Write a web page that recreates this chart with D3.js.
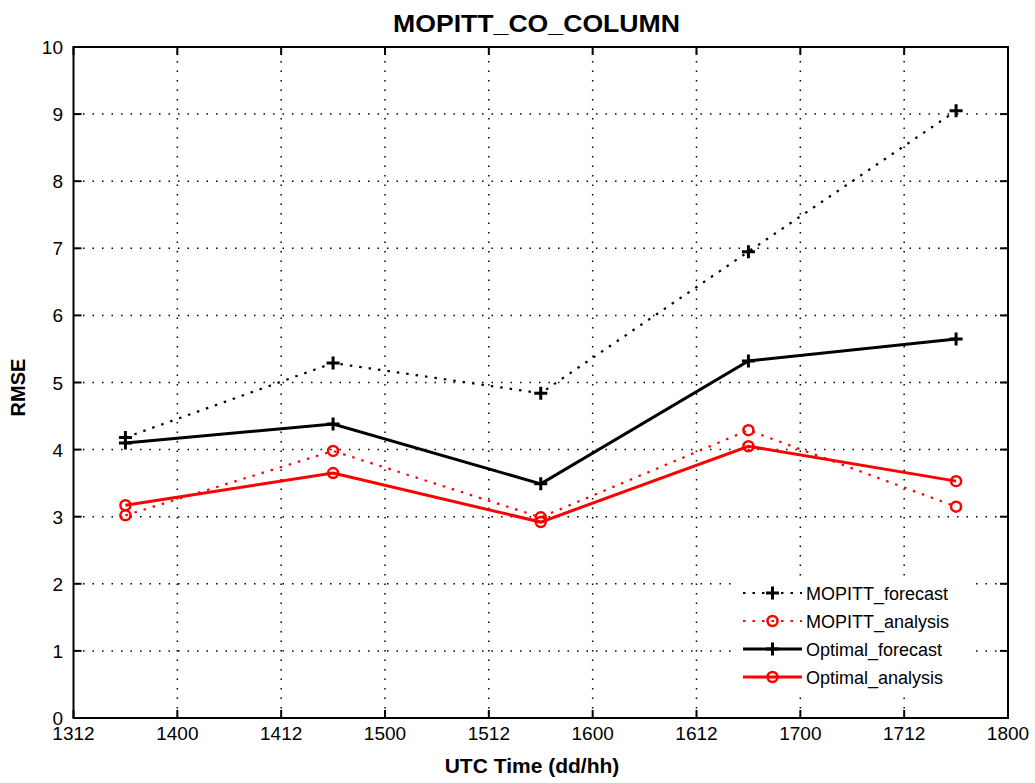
<!DOCTYPE html>
<html>
<head>
<meta charset="utf-8">
<script src="https://cdn.jsdelivr.net/npm/d3@7"></script>
<style>
  html, body { margin: 0; padding: 0; background: #fff; }
  svg { display: block; }
  text { font-family: "Liberation Sans", Arial, Helvetica, sans-serif; }
</style>
</head>
<body>
<script>
// ---- data ----
const timeHours = [6, 30, 54, 78, 102];            // hours after 13/12 UTC
const xTickHours = [0, 12, 24, 36, 48, 60, 72, 84, 96, 108];
const xTickLabels = ["1312", "1400", "1412", "1500", "1512", "1600", "1612", "1700", "1712", "1800"];
const yTicks = [0, 1, 2, 3, 4, 5, 6, 7, 8, 9, 10];
const mopittForecast = [4.18, 5.29, 4.84, 6.95, 9.05];
const mopittAnalysis = [3.02, 3.98, 2.99, 4.29, 3.15];
const optimalForecast = [4.10, 4.38, 3.49, 5.32, 5.65];
const optimalAnalysis = [3.17, 3.65, 2.92, 4.05, 3.53];
const seriesNames = ["MOPITT_forecast", "MOPITT_analysis", "Optimal_forecast", "Optimal_analysis"];

(function () {
const W = 1035, H = 783;
const pL = 73.5, pR = 1008, pT = 47, pB = 718;

const svg = d3.select("body").append("svg").attr("width", W).attr("height", H);

const x = d3.scaleLinear().domain([0, 108]).range([pL, pR]);
const y = d3.scaleLinear().domain([0, 10]).range([pB, pT]);

// grid
const grid = svg.append("g").attr("stroke", "#000").attr("stroke-width", 1.5)
  .attr("stroke-dasharray", "1.5,8");
grid.selectAll("line.v").data(xTickHours.slice(1, -1)).join("line")
  .attr("x1", d => x(d)).attr("x2", d => x(d)).attr("y1", pB).attr("y2", pT);
grid.selectAll("line.h").data(yTicks.slice(1, -1)).join("line")
  .attr("x1", pL).attr("x2", pR).attr("y1", d => y(d)).attr("y2", d => y(d));

const series = [
  { name: seriesNames[0], vals: mopittForecast, color: "#000", dash: "2.5,7", width: 2.2, marker: "plus" },
  { name: seriesNames[1], vals: mopittAnalysis, color: "#ff0000", dash: "2.5,7", width: 2.2, marker: "circle" },
  { name: seriesNames[2], vals: optimalForecast, color: "#000", dash: null, width: 3, marker: "plus" },
  { name: seriesNames[3], vals: optimalAnalysis, color: "#ff0000", dash: null, width: 3, marker: "circle" }
];

const line = d3.line().x((d, i) => x(timeHours[i])).y(d => y(d));

function drawMarker(g, type, cx, cy, color) {
  if (type === "plus") {
    g.append("path").attr("d", `M${cx - 6.5},${cy}H${cx + 6.5}M${cx},${cy - 6.5}V${cy + 6.5}`)
      .attr("stroke", color).attr("stroke-width", 3).attr("fill", "none");
  } else {
    g.append("circle").attr("cx", cx).attr("cy", cy).attr("r", 5)
      .attr("stroke", color).attr("stroke-width", 2.5).attr("fill", "none");
  }
}

series.forEach(s => {
  const g = svg.append("g");
  g.append("path").datum(s.vals).attr("d", line)
    .attr("fill", "none").attr("stroke", s.color).attr("stroke-width", s.width)
    .attr("stroke-dasharray", s.dash);
  s.vals.forEach((v, i) => drawMarker(g, s.marker, x(timeHours[i]), y(v), s.color));
});

// legend
const lg = svg.append("g");
lg.append("rect").attr("x", 737).attr("y", 578).attr("width", 238).attr("height", 116).attr("fill", "#fff");
series.forEach((s, i) => {
  const ly = 593 + i * 28;
  lg.append("line").attr("x1", 743).attr("x2", 802).attr("y1", ly).attr("y2", ly)
    .attr("stroke", s.color).attr("stroke-width", s.width).attr("stroke-dasharray", s.dash);
  drawMarker(lg, s.marker, 772.5, ly, s.color);
  lg.append("text").attr("x", 806).attr("y", ly + 6.5).attr("font-size", 18)
    .attr("fill", "#000").text(s.name);
});

// axes (box with inward ticks on all sides)
const ax = svg.append("g").attr("stroke", "#000").attr("stroke-width", 2);
ax.append("rect").attr("x", pL).attr("y", pT).attr("width", pR - pL).attr("height", pB - pT)
  .attr("fill", "none");
const tl = 8;
ax.selectAll("line.xb").data(xTickHours).join("line")
  .attr("x1", d => x(d)).attr("x2", d => x(d)).attr("y1", pB).attr("y2", pB - tl);
ax.selectAll("line.xt").data(xTickHours).join("line")
  .attr("x1", d => x(d)).attr("x2", d => x(d)).attr("y1", pT).attr("y2", pT + tl);
ax.selectAll("line.yl").data(yTicks).join("line")
  .attr("x1", pL).attr("x2", pL + tl).attr("y1", d => y(d)).attr("y2", d => y(d));
ax.selectAll("line.yr").data(yTicks).join("line")
  .attr("x1", pR).attr("x2", pR - tl).attr("y1", d => y(d)).attr("y2", d => y(d));

// tick labels
svg.append("g").selectAll("text").data(xTickHours).join("text")
  .attr("x", d => x(d)).attr("y", 740).attr("text-anchor", "middle")
  .attr("font-size", 19).text((d, i) => xTickLabels[i]);
svg.append("g").selectAll("text").data(yTicks).join("text")
  .attr("x", 63).attr("y", d => y(d) + 7).attr("text-anchor", "end")
  .attr("font-size", 19).text(d => d);

// title & labels
svg.append("text").attr("x", 536.5).attr("y", 32).attr("text-anchor", "middle")
  .attr("font-size", 24).attr("font-weight", "bold")
  .attr("textLength", 287).attr("lengthAdjust", "spacingAndGlyphs").text("MOPITT_CO_COLUMN");
svg.append("text").attr("x", 532).attr("y", 773).attr("text-anchor", "middle")
  .attr("font-size", 21).attr("font-weight", "bold").text("UTC Time (dd/hh)");
svg.append("text").attr("transform", "translate(25,387.5) rotate(-90)").attr("text-anchor", "middle")
  .attr("font-size", 20).attr("font-weight", "bold").text("RMSE");
})();
</script>
</body>
</html>
